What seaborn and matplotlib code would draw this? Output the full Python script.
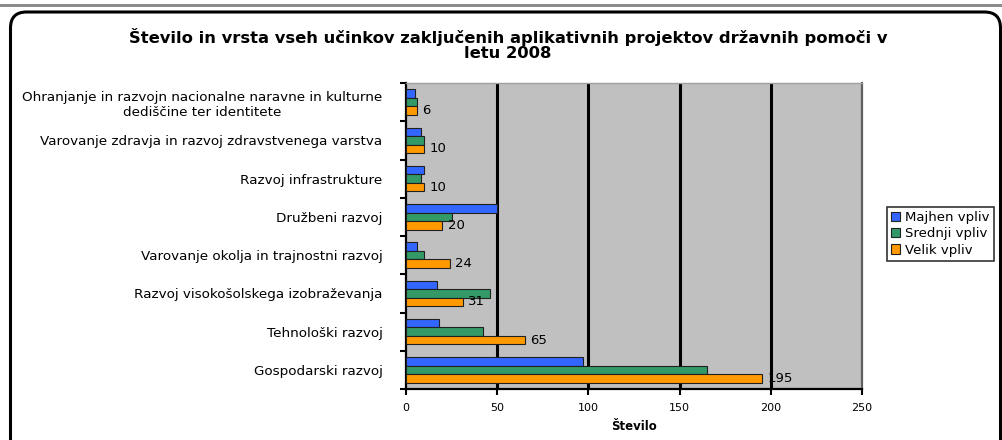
import matplotlib
matplotlib.use("Agg")
import matplotlib.pyplot as plt
from matplotlib.patches import FancyBboxPatch, Rectangle
import numpy as np
import pandas as pd
import seaborn as sns

# Categories (top to bottom) and the three impact series
categories = [
    "Ohranjanje in razvojn nacionalne naravne in kulturne\ndediščine ter identitete",
    "Varovanje zdravja in razvoj zdravstvenega varstva",
    "Razvoj infrastrukture",
    "Družbeni razvoj",
    "Varovanje okolja in trajnostni razvoj",
    "Razvoj visokošolskega izobraževanja",
    "Tehnološki razvoj",
    "Gospodarski razvoj",
]
series_names = ["Majhen vpliv", "Srednji vpliv", "Velik vpliv"]
majhen = [5, 8, 10, 50, 6, 17, 18, 97]
srednji = [6, 10, 8, 25, 10, 46, 42, 165]
velik = [6, 10, 10, 20, 24, 31, 65, 195]
x_ticks = [0, 50, 100, 150, 200, 250]

title = ("Število in vrsta vseh učinkov zaključenih aplikativnih projektov državnih pomoči v\n"
         "letu 2008")
x_label = "Število"

colors = ["#3366FF", "#339966", "#FF9900"]

df = pd.DataFrame({
    "kategorija": categories * 3,
    "vrsta": [s for s in series_names for _ in categories],
    "stevilo": majhen + srednji + velik,
})

sns.set_style("white")
plt.rcParams["font.family"] = ["DejaVu Sans"]
plt.rcParams.update({"text.color": "black", "axes.labelcolor": "black",
                     "xtick.color": "black", "ytick.color": "black"})

fig = plt.figure(figsize=(10.02, 4.40), dpi=100)
ax = fig.add_axes([406 / 1002, 1 - 389 / 440, (862 - 406) / 1002, (389 - 83) / 440])

sns.barplot(
    data=df, y="kategorija", x="stevilo", hue="vrsta",
    order=categories, hue_order=series_names, palette=colors,
    orient="h", width=0.667, gap=0, edgecolor="#202020", linewidth=0.8,
    saturation=1, ax=ax, legend=True, zorder=3,
)

ax.set_facecolor("#C0C0C0")
ax.set_xlim(0, 250)
ax.set_ylim(len(categories) - 0.5, -0.5)
ax.set_xticks(x_ticks)
ax.set_xticklabels([str(t) for t in x_ticks], fontsize=8)

# black vertical gridlines
for t in x_ticks[1:-1]:
    ax.axvline(t, color="black", linewidth=2.2, zorder=1)

# y labels centered on groups, tick marks at group boundaries
ax.set_yticks(range(len(categories)))
ax.set_yticklabels(categories, fontsize=9.7)
for lab in ax.get_yticklabels():
    lab.set_multialignment("center")
ax.tick_params(axis="y", which="major", length=0, pad=17)
ax.set_yticks(np.arange(-0.5, len(categories), 1.0), minor=True)
ax.tick_params(axis="y", which="minor", length=4, width=1.5, color="black", direction="out", left=True)
ax.tick_params(axis="x", which="major", length=4, width=1.5, color="black", direction="out", bottom=True, pad=6)

ax.set_ylabel("")
ax.set_xlabel(x_label, fontsize=8.5, fontweight="bold", labelpad=5)

for side in ["left", "bottom"]:
    ax.spines[side].set_color("black")
    ax.spines[side].set_linewidth(1.6)
ax.spines["top"].set_color("#A0A0A0")
ax.spines["top"].set_linewidth(1.0)
ax.spines["right"].set_color("#606060")
ax.spines["right"].set_linewidth(1.6)

# value labels on the "Velik vpliv" bars
ax.bar_label(ax.containers[2], labels=[str(v) for v in velik], padding=4, fontsize=9.5,
             color="black")

# legend
handles, labels = ax.get_legend_handles_labels()
leg = ax.legend(
    handles, labels, loc="upper left", bbox_to_anchor=(887 / 1002, 1 - 207 / 440),
    bbox_transform=fig.transFigure, fontsize=9.5, frameon=True, fancybox=False,
    edgecolor="black", handlelength=0.7, handleheight=0.7, handletextpad=0.4,
    borderpad=0.3, labelspacing=0.25, borderaxespad=0,
)
leg.get_frame().set_linewidth(1.2)
for txt in leg.get_texts():
    txt.set_color("black")

fig.suptitle(title, x=508 / 1002, y=1 - 28 / 440, fontsize=11.8, fontweight="bold",
             linespacing=1.0, va="top", color="black")

# outer frame and top band
fig.patches.append(Rectangle((0, 1 - 7 / 440), 1, 3 / 440, transform=fig.transFigure,
                             facecolor="#8C8C8C", edgecolor="none", zorder=0))
fig.patches.append(FancyBboxPatch((0.105, -0.3), 9.9, 4.28 + 0.3,
                                  boxstyle="round,pad=0,rounding_size=0.16",
                                  transform=fig.dpi_scale_trans, facecolor="none",
                                  edgecolor="black", linewidth=2.2, zorder=0))

fig.savefig("out.png", dpi=100)
